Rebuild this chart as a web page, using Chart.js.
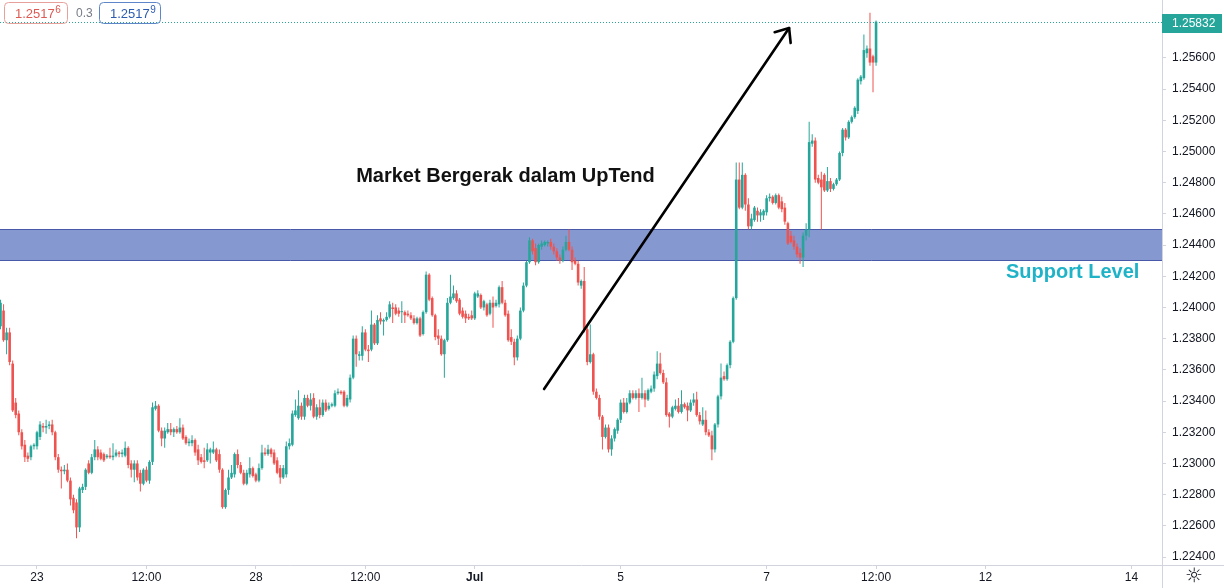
<!DOCTYPE html>
<html><head><meta charset="utf-8">
<script src="https://cdn.jsdelivr.net/npm/chart.js@4.4.1/dist/chart.umd.min.js"></script>
<style>html,body{margin:0;padding:0;background:#fff;overflow:hidden}canvas{display:block}</style>
</head><body>
<canvas id="c" width="1224" height="588"></canvas>
<script>
// bar index relative to 23 Jun 00:00 (1H candles)
const FIRST_BAR = -12;
const opens = [
1.2388,1.2398,1.2379,1.2384,1.2364,1.2339,1.2332,1.2320,1.2312,1.2305,
1.2304,1.2311,1.2311,1.2317,1.2324,1.2323,1.2324,1.2325,1.2320,1.2304,
1.2296,1.2295,1.2296,1.2289,1.2278,1.2275,1.2259,1.2283,1.2285,1.2300,
1.2294,1.2304,1.2309,1.2307,1.2306,1.2304,1.2305,1.2304,1.2305,1.2307,
1.2306,1.2305,1.2310,1.2300,1.2296,1.2300,1.2294,1.2287,1.2296,1.2289,
1.2301,1.2335,1.2337,1.2321,1.2316,1.2320,1.2322,1.2320,1.2322,1.2320,
1.2323,1.2317,1.2313,1.2313,1.2315,1.2309,1.2304,1.2302,1.2302,1.2307,
1.2307,1.2309,1.2306,1.2296,1.2272,1.2283,1.2291,1.2293,1.2306,1.2299,
1.2294,1.2287,1.2293,1.2297,1.2293,1.2289,1.2297,1.2307,1.2306,1.2309,
1.2307,1.2302,1.2297,1.2291,1.2293,1.2311,1.2312,1.2331,1.2329,1.2337,
1.2330,1.2342,1.2337,1.2342,1.2330,1.2336,1.2331,1.2339,1.2335,1.2337,
1.2337,1.2345,1.2346,1.2346,1.2337,1.2341,1.2355,1.2380,1.2369,1.2369,
1.2384,1.2373,1.2373,1.2389,1.2377,1.2393,1.2391,1.2392,1.2394,1.2400,
1.2400,1.2398,1.2397,1.2397,1.2396,1.2395,1.2393,1.2390,1.2393,1.2383,
1.2397,1.2421,1.2406,1.2395,1.2382,1.2380,1.2370,1.2379,1.2403,1.2406,
1.2409,1.2405,1.2398,1.2396,1.2394,1.2395,1.2393,1.2407,1.2408,1.2400,
1.2402,1.2396,1.2403,1.2401,1.2402,1.2413,1.2403,1.2396,1.2381,1.2378,
1.2368,1.2380,1.2398,1.2414,1.2429,1.2443,1.2438,1.2429,1.2439,1.2440,
1.2441,1.2442,1.2439,1.2436,1.2432,1.2430,1.2437,1.2442,1.2437,1.2430,
1.2428,1.2414,1.2417,1.2386,1.2365,1.2370,1.2346,1.2342,1.2330,1.2317,
1.2323,1.2309,1.2316,1.2321,1.2328,1.2339,1.2333,1.2339,1.2345,1.2342,
1.2345,1.2342,1.2345,1.2341,1.2346,1.2348,1.2356,1.2364,1.2358,1.2352,
1.2332,1.2330,1.2335,1.2337,1.2333,1.2338,1.2337,1.2334,1.2339,1.2341,
1.2331,1.2325,1.2328,1.2320,1.2318,1.2309,1.2325,1.2343,1.2356,1.2354,
1.2363,1.2378,1.2406,1.2482,1.2464,1.2485,1.2466,1.2452,1.2456,1.2462,
1.2459,1.2459,1.2461,1.2470,1.2471,1.2467,1.2472,1.2468,1.2464,1.2454,
1.2446,1.2443,1.2439,1.2435,1.2432,1.2446,1.2450,1.2505,1.2507,1.2483,
1.2482,1.2485,1.2475,1.2481,1.2476,1.2479,1.2482,1.2499,1.2514,1.2509,
1.2519,1.2522,1.2526,1.2545,1.2547,1.2563,1.2566,1.2561,1.2557];
const highs = [
1.2405,1.2402,1.2387,1.2387,1.2366,1.2342,1.2334,1.2322,1.2315,1.2307,
1.2312,1.2313,1.2321,1.2327,1.2326,1.2328,1.2327,1.2328,1.2321,1.2306,
1.2298,1.2299,1.2300,1.2291,1.2280,1.2277,1.2285,1.2287,1.2297,1.2302,
1.2306,1.2315,1.2311,1.2309,1.2307,1.2306,1.2310,1.2313,1.2309,1.2308,
1.2309,1.2314,1.2311,1.2302,1.2302,1.2302,1.2296,1.2297,1.2298,1.2302,
1.2339,1.2340,1.2338,1.2323,1.2323,1.2326,1.2326,1.2323,1.2324,1.2329,
1.2325,1.2318,1.2316,1.2318,1.2316,1.2312,1.2306,1.2310,1.2313,1.2310,
1.2314,1.2310,1.2309,1.2297,1.2284,1.2296,1.2299,1.2307,1.2309,1.2301,
1.2296,1.2296,1.2304,1.2298,1.2294,1.2300,1.2312,1.2310,1.2312,1.2310,
1.2309,1.2304,1.2299,1.2299,1.2314,1.2316,1.2334,1.2341,1.2347,1.2339,
1.2344,1.2344,1.2345,1.2345,1.2338,1.2341,1.2341,1.2341,1.2339,1.2339,
1.2347,1.2348,1.2347,1.2347,1.2344,1.2357,1.2382,1.2382,1.2372,1.2388,
1.2386,1.2376,1.2398,1.2390,1.2395,1.2397,1.2393,1.2397,1.2404,1.2403,
1.2402,1.2400,1.2404,1.2398,1.2398,1.2397,1.2395,1.2394,1.2394,1.2398,
1.2423,1.2422,1.2407,1.2396,1.2386,1.2382,1.2380,1.2406,1.2421,1.2414,
1.2411,1.2406,1.2400,1.2398,1.2396,1.2398,1.2410,1.2411,1.2409,1.2405,
1.2403,1.2405,1.2407,1.2405,1.2414,1.2417,1.2405,1.2398,1.2386,1.2380,
1.2382,1.2400,1.2416,1.2430,1.2445,1.2444,1.2441,1.2441,1.2443,1.2443,
1.2443,1.2444,1.2441,1.2438,1.2434,1.2439,1.2446,1.2450,1.2439,1.2432,
1.2430,1.2418,1.2426,1.2388,1.2389,1.2371,1.2348,1.2344,1.2331,1.2325,
1.2325,1.2318,1.2323,1.2329,1.2341,1.2342,1.2342,1.2347,1.2347,1.2347,
1.2348,1.2355,1.2347,1.2348,1.2350,1.2359,1.2372,1.2371,1.2360,1.2355,
1.2333,1.2337,1.2341,1.2342,1.2347,1.2339,1.2339,1.2341,1.2345,1.2346,
1.2333,1.2336,1.2334,1.2322,1.2321,1.2326,1.2344,1.2364,1.2359,1.2364,
1.2379,1.2407,1.2493,1.2493,1.2493,1.2486,1.2470,1.2460,1.2465,1.2464,
1.2463,1.2463,1.2472,1.2473,1.2472,1.2473,1.2473,1.2471,1.2467,1.2455,
1.2449,1.2446,1.2441,1.2438,1.2448,1.2454,1.2519,1.2511,1.2509,1.2485,
1.2487,1.2486,1.2490,1.2483,1.2480,1.2483,1.2500,1.2515,1.2515,1.2520,
1.2523,1.2529,1.2547,1.2549,1.2575,1.2568,1.2589,1.2562,1.2584];
const lows = [
1.2386,1.2378,1.2370,1.2363,1.2333,1.2329,1.2318,1.2309,1.2301,1.2301,
1.2302,1.2309,1.2309,1.2315,1.2320,1.2319,1.2322,1.2318,1.2302,1.2294,
1.2284,1.2293,1.2288,1.2273,1.2268,1.2252,1.2256,1.2281,1.2283,1.2293,
1.2293,1.2302,1.2302,1.2302,1.2301,1.2303,1.2303,1.2302,1.2304,1.2304,
1.2304,1.2304,1.2297,1.2291,1.2288,1.2289,1.2282,1.2286,1.2288,1.2287,
1.2299,1.2334,1.2320,1.2311,1.2310,1.2319,1.2318,1.2317,1.2319,1.2319,
1.2315,1.2312,1.2311,1.2311,1.2305,1.2299,1.2300,1.2297,1.2301,1.2300,
1.2306,1.2301,1.2294,1.2271,1.2271,1.2280,1.2290,1.2291,1.2297,1.2293,
1.2286,1.2286,1.2291,1.2291,1.2288,1.2288,1.2296,1.2305,1.2305,1.2304,
1.2299,1.2293,1.2287,1.2290,1.2291,1.2309,1.2311,1.2330,1.2328,1.2328,
1.2328,1.2336,1.2334,1.2329,1.2328,1.2329,1.2330,1.2333,1.2334,1.2336,
1.2336,1.2344,1.2344,1.2336,1.2336,1.2339,1.2354,1.2362,1.2366,1.2366,
1.2372,1.2365,1.2372,1.2376,1.2376,1.2389,1.2382,1.2391,1.2393,1.2390,
1.2395,1.2394,1.2390,1.2390,1.2394,1.2392,1.2389,1.2389,1.2381,1.2382,
1.2396,1.2404,1.2394,1.2379,1.2376,1.2369,1.2355,1.2378,1.2402,1.2405,
1.2403,1.2395,1.2393,1.2390,1.2392,1.2392,1.2392,1.2406,1.2399,1.2398,
1.2394,1.2395,1.2387,1.2400,1.2400,1.2402,1.2394,1.2378,1.2376,1.2363,
1.2366,1.2379,1.2397,1.2413,1.2428,1.2434,1.2427,1.2428,1.2437,1.2439,
1.2439,1.2437,1.2434,1.2430,1.2428,1.2429,1.2436,1.2436,1.2424,1.2427,
1.2414,1.2412,1.2384,1.2363,1.2364,1.2344,1.2341,1.2328,1.2309,1.2316,
1.2307,1.2305,1.2314,1.2319,1.2326,1.2332,1.2332,1.2338,1.2341,1.2341,
1.2333,1.2341,1.2336,1.2340,1.2345,1.2346,1.2354,1.2357,1.2351,1.2330,
1.2323,1.2329,1.2334,1.2332,1.2332,1.2335,1.2327,1.2333,1.2337,1.2330,
1.2325,1.2324,1.2318,1.2317,1.2302,1.2307,1.2323,1.2341,1.2353,1.2353,
1.2361,1.2377,1.2405,1.2463,1.2463,1.2462,1.2450,1.2450,1.2455,1.2455,
1.2455,1.2456,1.2459,1.2468,1.2466,1.2466,1.2463,1.2461,1.2453,1.2440,
1.2441,1.2437,1.2432,1.2428,1.2426,1.2443,1.2445,1.2503,1.2480,1.2479,
1.2450,1.2474,1.2474,1.2474,1.2475,1.2478,1.2481,1.2497,1.2507,1.2508,
1.2518,1.2521,1.2524,1.2543,1.2546,1.2560,1.2555,1.2538,1.2555];
const closes = [
1.2403,1.2379,1.2384,1.2365,1.2334,1.2331,1.2320,1.2311,1.2304,1.2303,
1.2311,1.2312,1.2320,1.2325,1.2323,1.2324,1.2325,1.2320,1.2304,1.2296,
1.2295,1.2296,1.2289,1.2277,1.2270,1.2259,1.2284,1.2285,1.2296,1.2294,
1.2304,1.2309,1.2304,1.2303,1.2302,1.2305,1.2304,1.2305,1.2307,1.2306,
1.2307,1.2310,1.2299,1.2296,1.2300,1.2291,1.2287,1.2296,1.2289,1.2301,
1.2336,1.2337,1.2321,1.2316,1.2321,1.2322,1.2320,1.2322,1.2320,1.2323,
1.2316,1.2313,1.2314,1.2315,1.2307,1.2302,1.2301,1.2301,1.2309,1.2309,
1.2309,1.2302,1.2296,1.2272,1.2283,1.2291,1.2294,1.2306,1.2299,1.2294,
1.2287,1.2294,1.2297,1.2292,1.2289,1.2297,1.2307,1.2306,1.2309,1.2306,
1.2300,1.2294,1.2291,1.2297,1.2311,1.2313,1.2332,1.2334,1.2337,1.2330,
1.2342,1.2337,1.2341,1.2330,1.2336,1.2331,1.2339,1.2334,1.2337,1.2338,
1.2345,1.2346,1.2345,1.2337,1.2342,1.2355,1.2380,1.2370,1.2370,1.2384,
1.2373,1.2372,1.2389,1.2377,1.2392,1.2391,1.2392,1.2394,1.2402,1.2399,
1.2396,1.2396,1.2397,1.2395,1.2395,1.2393,1.2390,1.2393,1.2382,1.2397,
1.2421,1.2405,1.2395,1.2381,1.2380,1.2370,1.2379,1.2403,1.2407,1.2409,
1.2404,1.2396,1.2394,1.2393,1.2393,1.2393,1.2409,1.2409,1.2400,1.2404,
1.2395,1.2403,1.2400,1.2403,1.2413,1.2403,1.2395,1.2379,1.2378,1.2368,
1.2380,1.2398,1.2414,1.2429,1.2443,1.2436,1.2429,1.2440,1.2441,1.2442,
1.2442,1.2439,1.2436,1.2432,1.2430,1.2437,1.2442,1.2437,1.2429,1.2428,
1.2416,1.2417,1.2386,1.2365,1.2370,1.2346,1.2342,1.2330,1.2317,1.2323,
1.2309,1.2316,1.2322,1.2328,1.2339,1.2333,1.2339,1.2345,1.2342,1.2345,
1.2342,1.2345,1.2341,1.2347,1.2348,1.2357,1.2364,1.2358,1.2352,1.2331,
1.2330,1.2336,1.2337,1.2333,1.2338,1.2336,1.2334,1.2339,1.2341,1.2331,
1.2327,1.2328,1.2320,1.2318,1.2309,1.2325,1.2343,1.2355,1.2354,1.2363,
1.2378,1.2406,1.2482,1.2464,1.2485,1.2466,1.2452,1.2457,1.2464,1.2459,
1.2461,1.2462,1.2470,1.2471,1.2467,1.2472,1.2464,1.2463,1.2455,1.2441,
1.2442,1.2439,1.2434,1.2432,1.2446,1.2450,1.2506,1.2507,1.2482,1.2480,
1.2477,1.2475,1.2481,1.2476,1.2479,1.2482,1.2499,1.2514,1.2509,1.2519,
1.2522,1.2528,1.2546,1.2548,1.2565,1.2566,1.2557,1.2557,1.25832];

const xTickBars = [0, 36, 72, 108, 144, 192, 240, 276, 312, 360];
const xTickLabels = ['23', '12:00', '28', '12:00', 'Jul', '5', '7', '12:00', '12', '14'];
const priceTicks = [1.224,1.226,1.228,1.230,1.232,1.234,1.236,1.238,1.240,1.242,1.244,1.246,1.248,1.250,1.252,1.254,1.256,1.258];
const clippedTopTick = 1.260;
const supportZone = [1.2430, 1.2450];
const arrowStart = [166.8, 1.23477];
const arrowEnd = [247.4, 1.25791];
const titleText = 'Market Bergerak dalam UpTend';
const titleAnchor = [154.1, 1.24842];
const supportText = 'Support Level';
const supportAnchor = [318.75, 1.24227];
const sellPrice = ['1.2517', '6'];
const buyPrice = ['1.2517', '9'];
const spreadText = '0.3';

const X_MIN = -12.17, X_MAX = 370.06;
const Y_MIN = 1.22349, Y_MAX = 1.25971;
const UP = '#26a69a', DOWN = '#ef5350';
const FONT = '"Liberation Sans", Arial, sans-serif';
const AXIS = '#d1d4dc', TXT = '#131722';

const candleColor = (ctx) => {
  const i = ctx.dataIndex;
  return closes[i] >= opens[i] ? UP : DOWN;
};
const wickData = highs.map((h, i) => ({ x: FIRST_BAR + i, y: [lows[i], h] }));
const bodyData = opens.map((o, i) => ({ x: FIRST_BAR + i, y: [o, closes[i]] }));

const overlay = {
  id: 'overlay',
  beforeDraw(chart) {
    const c = chart.ctx;
    c.save(); c.fillStyle = '#ffffff'; c.fillRect(0, 0, chart.width, chart.height); c.restore();
  },
  beforeDatasetsDraw(chart) {
    const { ctx, chartArea: a, scales: { y } } = chart;
    const top = y.getPixelForValue(supportZone[1]);
    const bot = y.getPixelForValue(supportZone[0]);
    ctx.save();
    ctx.fillStyle = '#8698d0';
    ctx.fillRect(a.left, top, a.right - a.left, bot - top);
    ctx.strokeStyle = '#4759a8';
    ctx.lineWidth = 1;
    ctx.beginPath();
    ctx.moveTo(a.left, Math.round(top) + 0.5); ctx.lineTo(a.right, Math.round(top) + 0.5);
    ctx.moveTo(a.left, Math.round(bot) - 0.5); ctx.lineTo(a.right, Math.round(bot) - 0.5);
    ctx.stroke();
    ctx.restore();
  },
  afterDatasetsDraw(chart) {
    const { ctx, chartArea: a, scales: { x, y } } = chart;
    ctx.save();
    const lp = Math.round(y.getPixelForValue(closes[closes.length - 1])) + 0.5;
    ctx.strokeStyle = UP; ctx.lineWidth = 1; ctx.setLineDash([1, 2]);
    ctx.beginPath(); ctx.moveTo(a.left, lp); ctx.lineTo(a.right, lp); ctx.stroke();
    ctx.setLineDash([]);
    const p0 = { x: x.getPixelForValue(arrowStart[0]), y: y.getPixelForValue(arrowStart[1]) };
    const p1 = { x: x.getPixelForValue(arrowEnd[0]), y: y.getPixelForValue(arrowEnd[1]) };
    ctx.strokeStyle = '#000'; ctx.lineWidth = 2.6; ctx.lineCap = 'round'; ctx.lineJoin = 'round';
    ctx.beginPath(); ctx.moveTo(p0.x, p0.y); ctx.lineTo(p1.x, p1.y); ctx.stroke();
    const ang = Math.atan2(p0.y - p1.y, p0.x - p1.x);
    const L = 15, spread = 0.7;
    ctx.beginPath();
    ctx.moveTo(p1.x + L * Math.cos(ang + spread), p1.y + L * Math.sin(ang + spread));
    ctx.lineTo(p1.x, p1.y);
    ctx.lineTo(p1.x + L * Math.cos(ang - spread), p1.y + L * Math.sin(ang - spread));
    ctx.stroke();
    ctx.textBaseline = 'middle';
    ctx.font = 'bold 20px ' + FONT;
    ctx.fillStyle = '#111111'; ctx.textAlign = 'center';
    ctx.fillText(titleText, x.getPixelForValue(titleAnchor[0]), y.getPixelForValue(titleAnchor[1]));
    ctx.fillStyle = '#1fb3c8'; ctx.textAlign = 'left';
    ctx.fillText(supportText, x.getPixelForValue(supportAnchor[0]), y.getPixelForValue(supportAnchor[1]));
    ctx.restore();
  },
  afterDraw(chart) {
    const { ctx, chartArea: a, scales: { y } } = chart;
    ctx.save();
    ctx.strokeStyle = AXIS; ctx.lineWidth = 1;
    ctx.beginPath();
    ctx.moveTo(a.right, a.bottom + 0.5); ctx.lineTo(chart.width, a.bottom + 0.5);
    ctx.moveTo(a.right + 0.5, a.bottom); ctx.lineTo(a.right + 0.5, chart.height);
    ctx.stroke();
    ctx.font = '12px ' + FONT; ctx.fillStyle = TXT; ctx.textAlign = 'left'; ctx.textBaseline = 'middle';
    ctx.fillText(clippedTopTick.toFixed(5), a.right + 10, y.getPixelForValue(clippedTopTick));
    const last = closes[closes.length - 1];
    const ly = y.getPixelForValue(last);
    ctx.fillStyle = UP;
    ctx.fillRect(a.right, Math.round(ly - 8), 60, 19);
    ctx.fillStyle = '#ffffff';
    ctx.fillText(last.toFixed(5), a.right + 10, ly + 2);
    // settings icon
    ctx.fillStyle = TXT; ctx.textAlign = 'center';
    ctx.font = '20px "DejaVu Sans"';
    ctx.fillText('\u263C', a.right + 32, a.bottom + 12);
    const box = (bx, w, border, color, parts) => {
      ctx.strokeStyle = border; ctx.lineWidth = 1;
      ctx.beginPath(); ctx.roundRect(bx + 0.5, 2.5, w, 21, 4); ctx.stroke();
      ctx.fillStyle = color; ctx.textAlign = 'left'; ctx.textBaseline = 'middle';
      ctx.font = '13px ' + FONT;
      ctx.fillText(parts[0], bx + 11, 14);
      const tw = ctx.measureText(parts[0]).width;
      ctx.font = '10px ' + FONT;
      ctx.fillText(parts[1], bx + 11 + tw + 0.5, 10);
    };
    box(4, 63, '#e8a09b', '#dd5a52', sellPrice);
    box(99, 61, '#5f86c9', '#2d5bb0', buyPrice);
    ctx.font = '12px ' + FONT; ctx.fillStyle = '#787b86'; ctx.textAlign = 'left';
    ctx.fillText(spreadText, 76, 14);
    ctx.restore();
  }
};

new Chart(document.getElementById('c'), {
  type: 'bar',
  data: {
    datasets: [
      { label: 'wick', data: wickData, backgroundColor: candleColor, barThickness: 1, minBarLength: 1,
        grouped: false, inflateAmount: 0, order: 2 },
      { label: 'body', data: bodyData, backgroundColor: candleColor, barThickness: 2.6, minBarLength: 1,
        grouped: false, inflateAmount: 0, order: 1 }
    ]
  },
  options: {
    responsive: false, animation: false, devicePixelRatio: 1,
    layout: { padding: 0 },
    plugins: { legend: { display: false }, tooltip: { enabled: false } },
    scales: {
      x: {
        type: 'linear', min: X_MIN, max: X_MAX, offset: false,
        grid: { display: true, offset: false, drawOnChartArea: false, drawTicks: true, tickLength: 4, color: AXIS },
        border: { display: true, color: AXIS },
        afterBuildTicks: (s) => { s.ticks = xTickBars.map(v => ({ value: v })); },
        ticks: {
          autoSkip: false, maxRotation: 0, padding: 1, color: TXT,
          font: (c) => ({ family: FONT, size: 12, weight: xTickLabels[c.index] === 'Jul' ? 'bold' : 'normal' }),
          callback: (v, i) => xTickLabels[i]
        },
        afterFit: (s) => { s.height = 23; s.paddingLeft = 0; s.paddingRight = 0; }
      },
      y: {
        position: 'right', min: Y_MIN, max: Y_MAX,
        grid: { display: true, offset: false, drawOnChartArea: false, drawTicks: true, tickLength: 4, color: AXIS },
        border: { display: true, color: AXIS },
        afterBuildTicks: (s) => { s.ticks = priceTicks.map(v => ({ value: v })); },
        ticks: { padding: 6, color: TXT, font: { family: FONT, size: 12 }, callback: (v) => Number(v).toFixed(5) },
        afterFit: (s) => { s.width = 62; s.paddingTop = 0; s.paddingBottom = 0; }
      }
    }
  },
  plugins: [overlay]
});
</script>
</body></html>
